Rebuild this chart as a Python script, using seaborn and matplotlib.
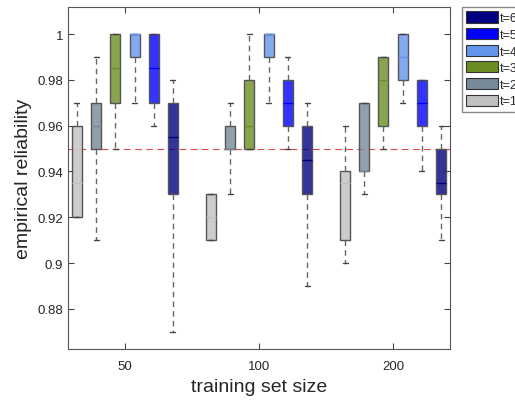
import numpy as np
import pandas as pd
import matplotlib
matplotlib.use("Agg")
import matplotlib.pyplot as plt
from matplotlib.patches import Patch
from matplotlib.colors import to_rgba
import seaborn as sns

sizes = ["50", "100", "200"]
levels = ["t=1", "t=2", "t=3", "t=4", "t=5", "t=6"]
colors = ["#c0c0c0", "#778899", "#6b8e23", "#6495ed", "#0000ff", "#000080"]

# five-number summaries per (size, level): whisker low, q1, median, q3, whisker high
whislo = {
    "50":  [0.920, 0.910, 0.950, 0.970, 0.960, 0.870],
    "100": [0.910, 0.930, 0.950, 0.970, 0.950, 0.890],
    "200": [0.900, 0.930, 0.950, 0.970, 0.940, 0.910],
}
q1 = {
    "50":  [0.920, 0.950, 0.970, 0.990, 0.970, 0.930],
    "100": [0.910, 0.950, 0.950, 0.990, 0.960, 0.930],
    "200": [0.910, 0.940, 0.960, 0.980, 0.960, 0.930],
}
med = {
    "50":  [0.935, 0.960, 0.985, 1.000, 0.985, 0.955],
    "100": [0.920, 0.950, 0.960, 1.000, 0.970, 0.945],
    "200": [0.935, 0.940, 0.980, 0.990, 0.970, 0.935],
}
q3 = {
    "50":  [0.960, 0.970, 1.000, 1.000, 1.000, 0.970],
    "100": [0.930, 0.960, 0.980, 1.000, 0.980, 0.960],
    "200": [0.940, 0.970, 0.990, 1.000, 0.980, 0.950],
}
whishi = {
    "50":  [0.970, 0.990, 1.000, 1.000, 1.000, 0.980],
    "100": [0.930, 0.970, 1.000, 1.000, 0.990, 0.970],
    "200": [0.960, 0.970, 0.990, 1.000, 0.980, 0.960],
}
target = 0.95

rows = []
for s in sizes:
    for i, lv in enumerate(levels):
        for v in (whislo[s][i], q1[s][i], med[s][i], q3[s][i], whishi[s][i]):
            rows.append({"size": s, "t": lv, "value": v})
df = pd.DataFrame(rows)

sns.set_style("white")
plt.rcParams["font.family"] = ["Liberation Sans", "DejaVu Sans"]

fig = plt.figure(figsize=(5.15, 4.02), dpi=100)
ax = fig.add_axes([68/515, 1-350/402, (450-68)/515, (350-8)/402])

sns.boxplot(data=df, x="size", y="value", hue="t", order=sizes, hue_order=levels,
            palette=colors, saturation=1, width=0.86, gap=0.48, whis=(0, 100),
            showfliers=False, linecolor="#555555", linewidth=1.0,
            whiskerprops=dict(linestyle=(0, (4, 3)), color="#666666", linewidth=1.0),
            capprops=dict(color="#444444", linewidth=1.0),
            legend=False, ax=ax)

for cont, c in zip(ax.containers, colors):
    for b in cont.boxes:
        b.set_facecolor(to_rgba(c, 0.8))
        b.set_edgecolor("#555555")
    for m in cont.medians:
        m.set_color(c)
        m.set_linewidth(1.0)

ax.axhline(target, color="#e04848", linestyle=(0, (6, 4)), linewidth=0.8, zorder=0.5)

ax.set_xlim(-0.425, 2.425)
ax.set_ylim(0.8625, 1.0118)
ax.set_yticks([0.88, 0.90, 0.92, 0.94, 0.96, 0.98, 1.0])
ax.set_yticklabels(["0.88", "0.9", "0.92", "0.94", "0.96", "0.98", "1"])
ax.tick_params(axis="both", direction="in", length=4, width=0.8, colors="#444444",
               labelsize=9.5, labelcolor="#262626", top=True, right=True, bottom=True, left=True)
ax.tick_params(axis="x", pad=8)
for sp in ax.spines.values():
    sp.set_color("#555555")
    sp.set_linewidth(0.8)

ax.set_xlabel("training set size", fontsize=14, color="#262626")
ax.set_ylabel("empirical reliability", fontsize=14, color="#262626")

handles = [Patch(facecolor=c, edgecolor="#333333", linewidth=0.8) for c in colors][::-1]
fig.legend(handles, levels[::-1], loc="upper left", bbox_to_anchor=(462/515, 1-8/402),
           bbox_transform=fig.transFigure, borderaxespad=0, fancybox=False,
           edgecolor="#888888", framealpha=1, fontsize=9, handlelength=2.5,
           handleheight=1.0, labelspacing=0.3, handletextpad=0.2, borderpad=0.35)

fig.savefig("out.png", dpi=100)
